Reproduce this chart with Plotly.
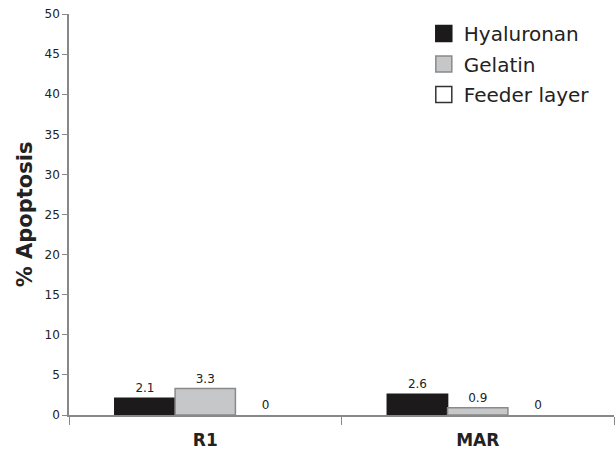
import plotly.graph_objects as go

categories = ["R1", "MAR"]
series_names = ["Hyaluronan", "Gelatin", "Feeder layer"]
hyaluronan = [2.1, 2.6]
gelatin = [3.3, 0.9]
feeder = [0, 0]
value_labels = {
    "Hyaluronan": ["2.1", "2.6"],
    "Gelatin": ["3.3", "0.9"],
    "Feeder layer": ["0", "0"],
}
y_ticks = [0, 5, 10, 15, 20, 25, 30, 35, 40, 45, 50]

fills = {"Hyaluronan": "#1c1a1b", "Gelatin": "#c6c7c9", "Feeder layer": "#ffffff"}
edges = {"Hyaluronan": "#1c1a1b", "Gelatin": "#8a8a8a", "Feeder layer": "#333333"}
bar_edge_width = {"Hyaluronan": 1.5, "Gelatin": 1.5, "Feeder layer": 0}
values = {"Hyaluronan": hyaluronan, "Gelatin": gelatin, "Feeder layer": feeder}

fig = go.Figure()
for name in series_names:
    fig.add_trace(go.Bar(
        x=categories, y=values[name], name=name,
        marker=dict(color=fills[name],
                    line=dict(color=edges[name], width=bar_edge_width[name])),
        text=value_labels[name], textposition="outside",
        textfont=dict(size=12, color="#222222", family="DejaVu Sans"),
        cliponaxis=False, showlegend=False,
    ))

# legend entries drawn as large square swatches
for name in series_names:
    fig.add_trace(go.Scatter(
        x=[None], y=[None], mode="markers", name=name, legendgroup=name,
        marker=dict(symbol="square", size=18, color=fills[name],
                    line=dict(color=edges[name], width=1.5)),
    ))

fig.update_layout(
    width=616, height=454,
    margin=dict(l=69, r=2, t=14, b=39),
    paper_bgcolor="white", plot_bgcolor="white",
    barmode="group", bargap=0.336, bargroupgap=0,
    font=dict(family="DejaVu Sans", color="#222222"),
    legend=dict(x=0.651, y=1.0, xanchor="left", yanchor="top",
                font=dict(size=20, color="#222222"),
                itemsizing="trace", tracegroupgap=1.5,
                bgcolor="rgba(0,0,0,0)"),
)
fig.update_xaxes(
    showline=True, linecolor="#888888", linewidth=1.5,
    ticks="outside", tickson="boundaries", ticklen=8, tickcolor="#888888",
    tickfont=dict(size=17, color="#222222", family="DejaVu Sans", weight="bold"),
    ticklabelstandoff=9,
    showgrid=False, zeroline=False,
)
fig.update_yaxes(
    range=[0, 50], tickvals=y_ticks, showline=True, linecolor="#888888", linewidth=1.5,
    ticks="outside", ticklen=5, tickcolor="#888888",
    tickfont=dict(size=12, color="#222222"),
    showgrid=False, zeroline=False,
    title=dict(text="% Apoptosis", font=dict(size=21, color="#222222", weight="bold"),
               standoff=6),
)
fig.write_html("out.html")
